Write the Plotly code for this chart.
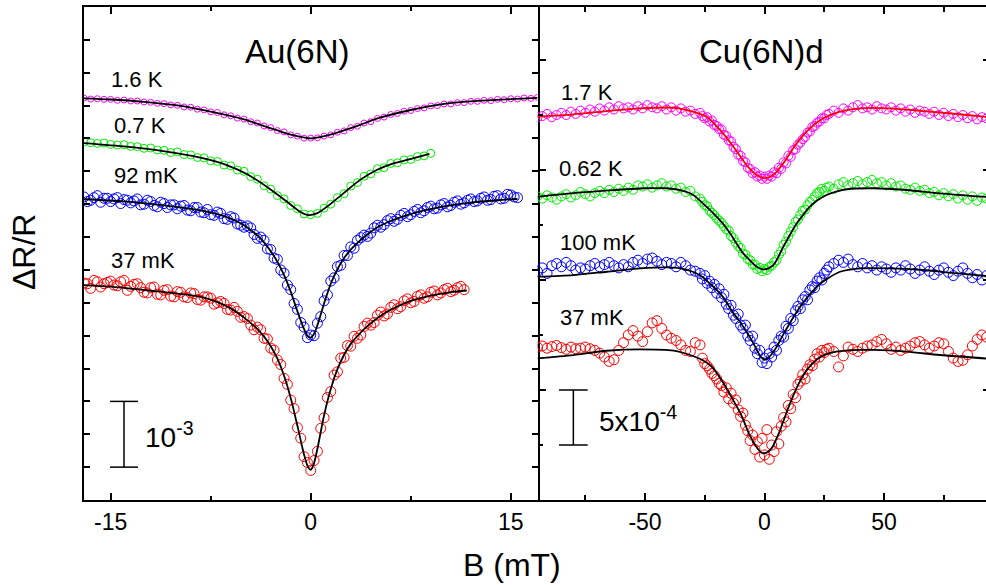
import plotly.graph_objects as go

# ---------------- Au(6N) panel (B in mT, dR/R in units of 1e-4, offsets arbitrary) ----------------
AU_X_16K = [-17, -16.5, -16, -15.5, -15, -14.5, -14, -13.5, -13, -12.5, -12, -11.5, -11, -10.5, -10, -9.5,
            -9, -8.5, -8, -7.5, -7, -6.5, -6, -5.5, -5, -4.5, -4, -3.5, -3, -2.5, -2, -1.5, -1, -0.5, 0,
            0.5, 1, 1.5, 2, 2.5, 3, 3.5, 4, 4.5, 5, 5.5, 6, 6.5, 7, 7.5, 8, 8.5, 9, 9.5, 10, 10.5, 11,
            11.5, 12, 12.5, 13, 13.5, 14, 14.5, 15, 15.5, 16, 16.5, 17]
AU_Y_16K = [61.15, 61.0, 61.05, 60.95, 60.95, 60.8, 60.85, 60.7, 60.7, 60.55,
            60.5, 60.35, 60.3, 60.1, 60.05, 59.8, 59.75, 59.45, 59.35, 59.05,
            58.95, 58.6, 58.45, 58.1, 57.95, 57.55, 57.35, 56.9, 56.65, 56.2,
            56.0, 55.55, 55.35, 55.05, 55.05, 55.1, 55.35, 55.55, 55.95, 56.15,
            56.65, 56.85, 57.35, 57.55, 58.05, 58.25, 58.65, 58.8, 59.15, 59.25,
            59.55, 59.65, 59.95, 60.0, 60.25, 60.25, 60.45, 60.45, 60.65, 60.65,
            60.8, 60.75, 60.95, 60.9, 61.05, 61.0, 61.15, 61.1, 61.25]
AU_FIT_16K_X = [-17, -15, -12.5, -10, -7.5, -5, -3.75, -2.5, -1.25, 0, 1.25, 2.5, 3.75, 5, 7.5, 10, 12.5, 15, 17]
AU_FIT_16K_Y = [61.1, 60.93, 60.57, 60.02, 59.08, 57.9, 57.05, 56.22, 55.46, 55.0, 55.46, 56.22, 57.1, 58.04,
                59.33, 60.25, 60.71, 60.98, 61.16]

AU_X_07K = [-17, -16.5, -16, -15.5, -15, -14.5, -14, -13.5, -13, -12.5, -12, -11.5, -11, -10.5, -10, -9.5,
            -9, -8.5, -8, -7.5, -7, -6.5, -6, -5.5, -5, -4.5, -4, -3.5, -3, -2.5, -2, -1.5, -1, -0.5, 0,
            0.5, 1, 1.5, 2, 2.5, 3, 3.5, 4, 4.5, 5, 5.5, 6, 6.5, 7, 7.5, 8, 8.5, 9]
AU_Y_07K = [54.5, 54.35, 54.25, 54.3, 54.1, 54.0, 54.05, 53.8, 53.75, 53.5,
            53.55, 53.25, 53.2, 52.85, 52.95, 52.55, 52.5, 52.1, 52.05, 51.6,
            51.5, 50.95, 50.85, 50.2, 50.0, 49.2, 48.8, 47.8, 47.3, 46.3,
            45.8, 44.8, 44.3, 43.5, 43.4, 43.6, 44.4, 45.0, 46.0, 46.6,
            47.75, 48.3, 49.25, 49.6, 50.4, 50.55, 51.2, 51.3, 51.75, 51.8,
            52.25, 52.35, 52.75]
AU_FIT_07K_X = [-17, -13.8, -11.3, -8.8, -7.5, -6.3, -4.8, -3.3, -1.8, -0.8, -0.2, 0.45, 1.2, 2.45, 3.7,
                4.95, 6.2, 7.45, 8.9]
AU_FIT_07K_Y = [54.3, 53.75, 53.15, 52.3, 51.7, 50.95, 49.6, 47.65, 45.4, 43.85, 43.35, 43.6, 44.6, 46.65,
                48.7, 50.2, 51.2, 51.85, 52.65]

# main field sweep points for the two low-temperature Au curves
AU_X_LOW = [-17, -16.5, -16, -15.5, -15, -14.5, -14, -13.5, -13, -12.5, -12, -11.5, -11, -10.5, -10, -9.5,
            -9, -8.5, -8, -7.5, -7, -6.5, -6, -5.5, -5, -4.5, -4, -3.5, -3.25, -3, -2.75, -2.5, -2.25, -2,
            -1.75, -1.5, -1.25, -1, -0.75, -0.5, -0.25, 0, 0.25, 0.5, 0.75, 1, 1.25, 1.5, 1.75, 2, 2.25,
            2.5, 2.75, 3, 3.25, 3.5, 4, 4.5, 5, 5.5, 6, 6.5, 7, 7.5, 8, 8.5, 9, 9.5, 10, 10.5, 11, 11.5,
            12, 12.5, 13, 13.5, 14, 14.5, 15, 15.5]
# intermediate sweep points (away from the dip)
AU_X_MID_L = [-16.75, -16.25, -15.75, -15.25, -14.75, -14.25, -13.75, -13.25, -12.75, -12.25, -11.75, -11.25,
              -10.75, -10.25, -9.75, -9.25, -8.75, -8.25, -7.75, -7.25, -6.75, -6.25, -5.75, -5.25, -4.75,
              -4.25, -3.75]
AU_X_MID_R = [3.75, 4.25, 4.75, 5.25, 5.75, 6.25, 6.75, 7.25, 7.75, 8.25, 8.75, 9.25, 9.75, 10.25, 10.75,
              11.25, 11.75, 12.25, 12.75, 13.25, 13.75, 14.25, 14.75, 15.25]

AU_Y_92MK = [46.1, 45.6, 46.3, 45.9, 45.4, 46.0, 45.7, 45.2, 45.8, 45.0,
             45.4, 44.6, 45.1, 44.9, 44.3, 44.8, 44.0, 44.5, 43.7, 43.4,
             43.8, 42.8, 43.1, 42.0, 41.5, 41.4, 39.8, 39.5,
             38.2, 38.1, 36.8, 36.6, 35.0, 34.5, 32.7, 32.0, 29.9, 29.0, 27.0, 26.3, 24.7,
             25.1,
             25.0, 26.9, 27.9, 30.3, 31.2, 33.3, 33.8, 35.5, 35.7, 37.2, 37.2, 38.5, 38.3,
             39.5, 40.3, 40.6, 41.8, 41.9, 42.8, 42.7, 43.6, 43.4, 44.2, 44.0, 44.7, 44.4,
             45.1, 44.8, 45.5, 45.2, 45.8, 45.5, 46.1, 45.7, 46.3, 45.9, 46.4, 46.0]
AU_Y_92MK_MID_L = [45.4, 46.0, 45.3, 45.9, 45.8, 45.1, 45.6, 45.5, 44.9, 45.6, 44.8, 45.3, 44.5, 44.9, 44.7,
                   44.1, 44.5, 43.8, 44.2, 43.3, 43.6, 42.7, 42.9, 41.8, 41.7, 40.4, 40.0]
AU_Y_92MK_MID_R = [39.9, 40.1, 41.4, 41.5, 42.5, 42.4, 43.3, 43.1, 43.9, 43.7, 44.5, 44.3, 44.9, 44.6, 45.3,
                   45.0, 45.6, 45.4, 45.9, 45.6, 46.2, 45.8, 46.5, 46.1]
AU_FIT_92MK_X = [-17, -14, -11, -8.5, -7, -6, -5, -4, -3.5, -3, -2.5, -2, -1.5, -1, -0.5, -0.2, 0, 0.25, 0.5,
                 1, 1.5, 2, 2.5, 3, 3.5, 4, 5, 6, 7, 8.5, 10, 12, 14, 15.5]
AU_FIT_92MK_Y = [45.75, 45.43, 44.83, 44.14, 43.5, 42.8, 41.8, 40.25, 39.2, 37.85, 36.25, 34.2, 31.7, 28.7,
                 26.0, 24.85, 24.7, 25.3, 26.6, 29.9, 32.9, 35.1, 36.8, 38.1, 39.1, 40.0, 41.5, 42.45, 43.2,
                 44.05, 44.68, 45.25, 45.6, 45.79]

AU_Y_37MK = [33.0, 32.2, 33.2, 32.9, 33.3, 32.6, 33.4, 32.5, 32.9, 31.6,
             32.3, 31.3, 31.9, 31.0, 31.7, 30.9, 31.5, 30.5, 30.9, 30.7,
             30.0, 29.9, 28.9, 28.7, 27.9, 26.6, 26.3, 24.6,
             24.5, 23.1, 22.8, 21.3, 20.6, 18.5, 17.6, 15.2, 13.9, 11.0, 9.4, 6.6, 5.7,
             4.5,
             6.0, 7.4, 10.9, 12.5, 15.6, 16.5, 19.0, 19.5, 21.6, 21.7, 23.5, 23.4, 24.9,
             24.6, 26.4, 26.6, 28.1, 28.0, 29.3, 29.1, 30.3, 30.0, 31.0, 30.7, 31.6, 31.2,
             32.0, 31.7, 32.3, 32.0]
AU_Y_37MK_MID_L = [32.9, 33.4, 32.4, 33.1, 32.7, 33.2, 31.9, 32.8, 32.3, 31.5, 32.4, 31.2, 32.0, 30.9, 31.6,
                   30.8, 31.4, 30.4, 30.9, 29.8, 30.2, 29.0, 29.3, 27.8, 27.6, 25.9, 25.9]
AU_Y_37MK_MID_R = [25.1, 26.9, 27.0, 28.6, 28.3, 29.7, 29.4, 30.6, 30.2, 31.2, 30.9, 31.8, 31.5, 32.2, 31.9,
                   32.5]
AU_FIT_37MK_X = [-17, -15, -12.5, -10, -8.5, -7, -6, -5, -4, -3.5, -3, -2.5, -2, -1.5, -1, -0.5, -0.2, 0,
                 0.2, 0.5, 1, 1.5, 2, 2.5, 3, 3.5, 4, 5, 6, 7.5, 9, 10.5, 11.7]
AU_FIT_37MK_Y = [32.7, 32.45, 31.95, 31.4, 31.0, 30.1, 29.15, 27.75, 26.0, 24.85, 23.4, 21.5, 18.9, 15.5,
                 11.3, 6.9, 5.0, 4.6, 5.3, 7.8, 12.9, 16.9, 19.9, 22.1, 23.75, 24.95, 26.0, 27.7, 28.95,
                 30.3, 31.1, 31.62, 31.87]

# ---------------- Cu(6N)d panel ----------------
CU_X = [-95, -93, -91, -89, -87, -85, -83, -81, -79, -77, -75, -73, -71, -69, -67, -65, -63, -61, -59, -57,
        -55, -53, -51, -49, -47, -45, -43, -41, -39, -37, -35, -33, -31, -29, -27,
        -26, -25, -24, -23, -22, -21, -20, -19, -18, -17, -16, -15, -14, -13, -12, -11, -10, -9, -8, -7,
        -6, -5, -4, -3, -2, -1, 0, 1, 2, 3, 4, 5, 6, 7, 8, 9, 10, 11, 12, 13, 14, 15, 16, 17, 18, 19, 20,
        21, 22, 23, 24, 25, 26,
        27, 29, 31, 33, 35, 37, 39, 41, 43, 45, 47, 49, 51, 53, 55, 57, 59, 61, 63, 65, 67, 69, 71, 73, 75,
        77, 79, 81, 83, 85, 87, 89, 91, 93]

CU_Y_17K = [34.8, 34.9, 35.1, 34.8, 35.0, 35.2, 35.0, 35.3, 35.1, 35.4, 35.2, 35.5, 35.3, 35.6, 35.4, 35.7,
            35.5, 35.8, 35.6, 35.7, 35.5, 35.8, 35.6, 35.9, 35.7, 35.6, 35.8, 35.5, 35.7, 35.4, 35.6, 35.3,
            35.4, 35.1, 35.2,
            34.9, 34.7, 34.8, 34.4, 34.5, 34.1, 34.0, 33.7, 33.7, 33.2, 33.1, 32.7, 32.6, 32.1, 31.9, 31.4,
            31.3, 30.8, 30.7, 30.2, 30.1, 29.7, 29.8, 29.4, 29.5, 29.2,
            29.4,
            29.2, 29.5, 29.4, 29.8, 29.7, 30.2, 30.1, 30.7, 30.6, 31.3, 31.2, 31.8, 31.9, 32.3, 32.5, 32.8,
            33.0, 33.4, 33.5, 33.9, 34.0, 34.3, 34.4, 34.7, 34.7, 35.0,
            35.1, 35.4, 35.2, 35.6, 35.4, 35.7, 35.9, 35.6, 35.7, 35.5, 35.8, 35.6, 35.5, 35.7, 35.4, 35.6,
            35.3, 35.5, 35.2, 35.4, 35.3, 35.1, 35.3, 35.0, 35.2, 34.9, 35.1, 34.8, 35.0, 34.7, 34.9, 34.6,
            34.8, 34.7]
CU_FIT_17K_X = [-95, -80, -66, -52, -38, -30, -24, -18.6, -13, -7.5, -3.3, 0, 3.7, 7.9, 13.5, 19, 24.6, 31.6,
                40, 52.5, 66.5, 80.4, 93]
CU_FIT_17K_Y = [34.85, 35.06, 35.36, 35.61, 35.66, 35.3, 34.8, 33.64, 32.12, 30.45, 29.55, 29.25, 29.55,
                30.61, 32.43, 33.79, 34.7, 35.3, 35.61, 35.61, 35.36, 35.09, 34.83]

CU_Y_062K = [27.6, 27.4, 27.7, 27.5, 27.3, 27.6, 27.8, 27.5, 27.7, 28.0, 27.8, 27.6, 27.9, 28.1, 27.9, 28.2,
             28.0, 28.3, 28.1, 28.4, 28.2, 28.6, 28.5, 28.7, 28.4, 28.6, 28.8, 28.5, 28.6, 28.3, 28.4, 28.0,
             28.1, 27.6, 27.4,
             27.1, 26.8, 26.7, 26.3, 26.1, 25.9, 25.6, 25.4, 25.2, 24.9, 24.6, 24.5, 24.0, 23.8, 23.4, 23.1,
             22.9, 22.4, 22.3, 21.9, 21.8, 21.4, 21.4, 21.0, 21.1, 20.8,
             21.0,
             20.9, 21.2, 21.3, 21.6, 21.8, 22.3, 22.6, 23.2, 23.5, 24.0, 24.4, 24.8, 25.3, 25.5, 25.9, 26.3,
             26.4, 26.8, 27.1, 27.3, 27.6, 27.9, 28.0, 28.3, 28.1, 28.4,
             28.5, 28.3, 28.7, 28.9, 28.6, 28.8, 29.0, 28.7, 28.9, 29.1, 28.8, 28.9, 28.6, 28.8, 28.5, 28.6,
             28.3, 28.2, 28.4, 28.1, 28.2, 27.9, 28.0, 27.7, 27.9, 27.6, 27.8, 27.4, 27.7, 27.3, 27.6, 27.2,
             27.5, 27.4]
CU_FIT_062K_X = [-95, -80, -65, -50, -41, -34, -29.8, -25, -21.4, -17.5, -14.4, -11.5, -8.9, -6, -3.3, 0, 3.7,
                 7.9, 10.5, 13.5, 16, 19, 22, 26, 30, 34.4, 45.5, 59.5, 73.4, 93]
CU_FIT_062K_Y = [27.57, 27.9, 28.15, 28.34, 28.34, 28.1, 27.73, 26.8, 26.06, 25.15, 24.24, 23.25, 22.42,
                 21.76, 21.21, 20.97, 21.36, 23.03, 24.05, 25.15, 25.88, 26.66, 27.22, 27.73, 28.03, 28.25,
                 28.34, 28.18, 27.88, 27.55]

CU_Y_100MK = [20.8, 21.1, 20.6, 21.3, 21.5, 21.2, 21.6, 21.3, 20.9, 21.1, 21.0, 21.3, 21.5, 21.2, 21.4, 21.6,
              21.3, 21.1, 21.4, 21.2, 21.6, 21.8, 21.5, 21.9, 22.0, 21.7, 21.4, 21.6, 21.5, 21.2, 21.6, 21.3,
              20.9, 20.8, 20.6,
              20.1, 20.4, 19.7, 19.9, 19.3, 19.6, 18.8, 19.2, 18.4, 18.7, 17.8, 17.4, 17.7, 16.8, 16.5, 16.9,
              15.9, 15.6, 15.9, 14.9, 14.5, 14.9, 13.8, 13.3, 13.6, 12.5,
              12.9,
              12.4, 13.3, 13.0, 13.9, 13.6, 14.5, 14.9, 14.8, 15.8, 15.6, 16.5, 16.3, 17.2, 17.6, 17.4, 18.2,
              18.5, 18.2, 19.1, 19.4, 19.3, 19.9, 20.2, 20.0, 20.6, 20.9,
              21.2, 21.5, 21.8, 21.6, 21.9, 21.4, 21.2, 21.5, 21.1, 21.3, 20.9, 21.2, 21.0, 20.7, 21.1, 20.9,
              21.3, 21.0, 20.6, 20.9, 21.2, 20.8, 20.5, 20.9, 21.1, 20.7, 20.4, 20.8, 21.1, 20.6, 20.2, 20.5,
              20.0, 20.4]
CU_FIT_100MK_X = [-95, -80, -66, -52, -40, -35, -30, -26, -23, -20, -17, -14, -11, -8, -5, -3, -1.5, 0, 1.5, 3,
                  5, 8, 11, 14, 17, 20, 23, 26, 31.6, 40, 52.5, 66.5, 80, 93]
CU_FIT_100MK_Y = [20.3, 20.45, 20.75, 21.06, 21.15, 21.05, 20.75, 20.3, 19.7, 19.1, 18.35, 17.3, 16.4, 15.45,
                  14.38, 13.55, 13.0, 12.75, 12.93, 13.25, 13.9, 15.1, 16.23, 17.28, 18.17, 18.95, 19.62,
                  20.08, 20.75, 21.06, 21.06, 20.91, 20.62, 20.36]

CU_Y_37MK = [13.9, 14.0, 13.8, 13.95, 14.05, 13.85, 13.7, 13.9, 13.75, 13.8, 13.9, 13.75, 13.6, 13.35, 13.0,
             12.6, 12.75, 13.6, 14.3, 15.0, 15.4, 14.9, 14.4, 15.3, 16.1, 16.3, 15.6, 15.0, 14.7, 14.5, 14.1,
             13.6, 13.5, 14.3, 14.1,
             12.9, 12.4, 12.2, 11.9, 11.5, 11.3, 11.0, 10.6, 10.4, 9.8, 10.2, 9.2, 9.7, 8.8, 9.1, 8.2, 7.6,
             7.9, 6.8, 6.3, 5.4, 5.9, 4.6, 5.3, 3.9, 5.6,
             4.1,
             6.4, 3.7, 5.0, 4.4, 6.2, 5.1, 6.7, 7.5, 7.1, 8.6, 8.3, 9.6, 9.3, 10.5, 10.8, 11.4, 11.0, 11.9,
             12.3, 12.2, 12.8, 13.3, 13.0, 13.6, 13.4, 13.7,
             13.8, 13.5, 12.1, 13.1, 13.9, 13.7, 13.5, 13.8, 14.0, 14.1, 14.4, 14.6, 14.2, 13.7, 13.9, 13.6,
             13.8, 14.0, 14.3, 14.4, 14.1, 13.8, 14.0, 14.3, 14.2, 13.5, 12.9, 12.6, 12.7, 13.2, 14.0, 14.6,
             15.0, 14.8]
CU_FIT_37MK_X = [-95, -80, -66, -52, -38, -30, -26, -22, -18, -14, -10, -6, -3, -1.5, 0, 1.5, 3, 6, 10, 14,
                 18, 22, 26, 30, 36, 45.5, 59.5, 73.4, 93]
CU_FIT_37MK_Y = [12.88, 13.18, 13.57, 13.7, 13.57, 13.09, 12.72, 12.1, 10.9, 9.42, 7.85, 5.8, 4.7, 4.35, 4.25,
                 4.38, 4.7, 6.05, 8.4, 10.45, 11.9, 12.8, 13.26, 13.48, 13.62, 13.64, 13.48, 13.18, 12.86]

AU_LABELS = ["1.6 K", "0.7 K", "92 mK", "37 mK"]
CU_LABELS = ["1.7 K", "0.62 K", "100 mK", "37 mK"]

MAGENTA, GREEN, BLUE, RED = "#ff00ff", "#00ee00", "#0000ff", "#ff0000"
FONT = "Liberation Sans, Arial, Helvetica, sans-serif"

fig = go.Figure()


def data_trace(x, y, color, size, xa, ya):
    n = min(len(x), len(y))
    fig.add_trace(go.Scatter(x=x[:n], y=y[:n], mode="markers", xaxis=xa, yaxis=ya, showlegend=False,
                             marker=dict(symbol="circle-open", size=size, color=color,
                                         line=dict(width=1, color=color))))


def fit_trace(x, y, xa, ya, color="black"):
    fig.add_trace(go.Scatter(x=x, y=y, mode="lines", xaxis=xa, yaxis=ya, showlegend=False,
                             line=dict(color=color, width=1.8, shape="spline", smoothing=0.8)))


# left panel
data_trace(AU_X_16K, AU_Y_16K, MAGENTA, 6, "x", "y")
data_trace(AU_X_07K, AU_Y_07K, GREEN, 8, "x", "y")
data_trace(AU_X_LOW, AU_Y_92MK, BLUE, 10, "x", "y")
data_trace(AU_X_MID_L, AU_Y_92MK_MID_L, BLUE, 10, "x", "y")
data_trace(AU_X_MID_R, AU_Y_92MK_MID_R, BLUE, 10, "x", "y")
data_trace(AU_X_LOW, AU_Y_37MK, RED, 10, "x", "y")
data_trace(AU_X_MID_L, AU_Y_37MK_MID_L, RED, 10, "x", "y")
data_trace(AU_X_MID_R, AU_Y_37MK_MID_R, RED, 10, "x", "y")
fit_trace(AU_FIT_16K_X, AU_FIT_16K_Y, "x", "y")
fit_trace(AU_FIT_07K_X, AU_FIT_07K_Y, "x", "y")
fit_trace(AU_FIT_92MK_X, AU_FIT_92MK_Y, "x", "y")
fit_trace(AU_FIT_37MK_X, AU_FIT_37MK_Y, "x", "y")

# right panel
data_trace(CU_X, CU_Y_17K, MAGENTA, 9, "x2", "y2")
data_trace(CU_X, CU_Y_062K, GREEN, 9, "x2", "y2")
data_trace(CU_X, CU_Y_100MK, BLUE, 10, "x2", "y2")
data_trace(CU_X, CU_Y_37MK, RED, 10, "x2", "y2")
fit_trace(CU_FIT_17K_X, CU_FIT_17K_Y, "x2", "y2", color=RED)
fit_trace(CU_FIT_062K_X, CU_FIT_062K_Y, "x2", "y2")
fit_trace(CU_FIT_100MK_X, CU_FIT_100MK_Y, "x2", "y2")
fit_trace(CU_FIT_37MK_X, CU_FIT_37MK_Y, "x2", "y2")
# empty trace so that the right-hand tick axis of the Cu panel is drawn
fig.add_trace(go.Scatter(x=[], y=[], xaxis="x2", yaxis="y3", showlegend=False, hoverinfo="skip"))

W, H = 986, 585
ML, MR, MT, MB = 84, 0, 7, 85
split = (537.5 - ML) / (W - ML - MR)
CU_YRANGE = [0, 44.818]

tickfont = dict(family=FONT, size=23, color="black")
common = dict(linecolor="black", linewidth=2, showgrid=False, zeroline=False,
              ticks="inside", tickcolor="black", tickwidth=1.5)

fig.update_layout(
    width=W, height=H,
    margin=dict(l=ML, r=MR, t=MT, b=MB, pad=0),
    paper_bgcolor="white", plot_bgcolor="white",
    font=dict(family=FONT, color="black"),
    xaxis=dict(domain=[0, split], range=[-17, 17], anchor="y", mirror="ticks", showline=True,
               tickvals=[-15, 0, 15], ticktext=["-15", "0", "15"], ticklen=7, tickfont=tickfont,
               minor=dict(tickvals=[-7.5, 7.5], ticks="inside", ticklen=4, tickcolor="black", tickwidth=1.5),
               **common),
    yaxis=dict(domain=[0, 1], range=[0, 75], anchor="x", mirror="ticks", showline=True,
               tickmode="linear", tick0=0, dtick=5, ticklen=6, showticklabels=False, **common),
    xaxis2=dict(domain=[split, 1], range=[-95, 92.7], anchor="y2", mirror="ticks", showline=True,
                tickvals=[-50, 0, 50], ticktext=["-50", "0", "50"], ticklen=7, tickfont=tickfont,
                minor=dict(tickvals=[-75, -25, 25, 75], ticks="inside", ticklen=5, tickcolor="black",
                           tickwidth=1.5),
                **common),
    yaxis2=dict(domain=[0, 1], range=CU_YRANGE, anchor="x2", mirror=False, showline=False,
                tickvals=[10, 20, 30, 40], ticklen=8, showticklabels=False,
                minor=dict(tickvals=[5, 15, 25, 35], ticks="inside", ticklen=5, tickcolor="black",
                           tickwidth=1.5),
                **common),
    yaxis3=dict(range=CU_YRANGE, anchor="x2", overlaying="y2", side="right", showline=False,
                tickvals=[10, 20, 30, 40], ticklen=3, showticklabels=False, showgrid=False, zeroline=False,
                ticks="inside", tickcolor="black", tickwidth=1.5),
)

ann = []
ann.append(dict(text="Au(6N)", x=-1.0, y=68.3, xref="x", yref="y", showarrow=False,
                xanchor="center", yanchor="middle", font=dict(size=33)))
ann.append(dict(text="Cu(6N)d", x=-1.05, y=40.8, xref="x2", yref="y2", showarrow=False,
                xanchor="center", yanchor="middle", font=dict(size=33)))
au_lab_pos = [(-15.1, 63.9), (-14.9, 56.9), (-14.9, 49.4), (-15.1, 36.4)]
for t, (x, y) in zip(AU_LABELS, au_lab_pos):
    ann.append(dict(text=t, x=x, y=y, xref="x", yref="y", showarrow=False, xanchor="left",
                    yanchor="middle", font=dict(size=22)))
cu_lab_pos = [(-86.0, 37.05), (-86.8, 30.1), (-86.4, 23.45), (-86.4, 16.6)]
for t, (x, y) in zip(CU_LABELS, cu_lab_pos):
    ann.append(dict(text=t, x=x, y=y, xref="x2", yref="y2", showarrow=False, xanchor="left",
                    yanchor="middle", font=dict(size=22)))
ann.append(dict(text="10<sup>-3</sup>", x=-12.6, y=9.9, xref="x", yref="y", showarrow=False,
                xanchor="left", yanchor="middle", font=dict(size=28)))
ann.append(dict(text="5x10<sup>-4</sup>", x=-70.3, y=7.4, xref="x2", yref="y2", showarrow=False,
                xanchor="left", yanchor="middle", font=dict(size=28)))
ann.append(dict(text="B (mT)", x=(512 - ML) / (W - ML - MR), y=(500 - 565) / 493, xref="paper", yref="paper",
                showarrow=False, xanchor="center", yanchor="middle", font=dict(size=32)))
ann.append(dict(text="ΔR/R", x=(24 - ML) / (W - ML - MR), y=(500 - 252) / 493, xref="paper", yref="paper",
                showarrow=False, xanchor="center", yanchor="middle", textangle=-90, font=dict(size=32)))
fig.update_layout(annotations=ann)

bar = dict(color="black", width=1.5)
shapes = [
    dict(type="line", xref="x", yref="y", x0=-14, x1=-14, y0=5, y1=15, line=bar),
    dict(type="line", xref="x", yref="y", x0=-15.05, x1=-12.95, y0=5, y1=5, line=bar),
    dict(type="line", xref="x", yref="y", x0=-15.05, x1=-12.95, y0=15, y1=15, line=bar),
    dict(type="line", xref="x2", yref="y2", x0=-80, x1=-80, y0=5, y1=10, line=bar),
    dict(type="line", xref="x2", yref="y2", x0=-86, x1=-74, y0=5, y1=5, line=bar),
    dict(type="line", xref="x2", yref="y2", x0=-86, x1=-74, y0=10, y1=10, line=bar),
]
fig.update_layout(shapes=shapes)

fig.write_html("out.html", config={"displayModeBar": False},
               post_script="document.body.style.margin='0';document.body.style.padding='0';")
